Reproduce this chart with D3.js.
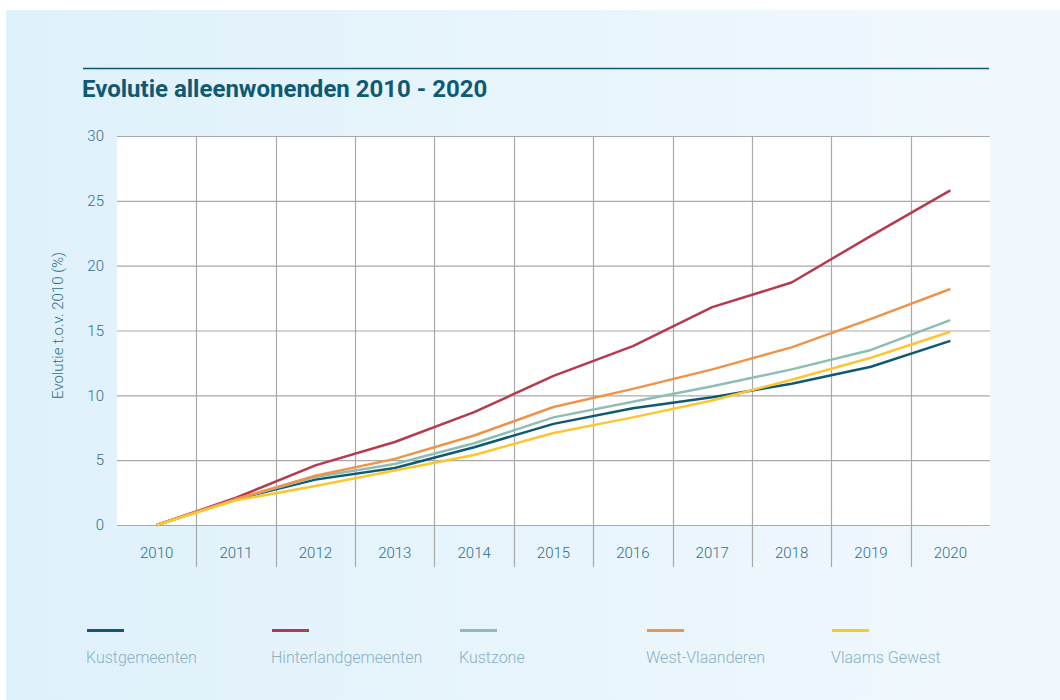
<!DOCTYPE html>
<html>
<head>
<meta charset="utf-8">
<title>Evolutie alleenwonenden 2010 - 2020</title>
<script src="https://cdnjs.cloudflare.com/ajax/libs/d3/7.8.5/d3.min.js"></script>
<style>
body {
  margin: 0;
  background: #ffffff;
  font-family: Roboto, sans-serif;
}
.tick text {
  font-family: Roboto, sans-serif;
  font-weight: 300;
  font-size: 15px;
  fill: #2f6f8c;
}
.legend text {
  font-family: Roboto, sans-serif;
  font-weight: 300;
  font-size: 16px;
  fill: #8ab0c2;
}
</style>
</head>
<body>
<script>
// data (evolutie t.o.v. 2010, %)
var years = ["2010", "2011", "2012", "2013", "2014", "2015", "2016", "2017", "2018", "2019", "2020"];
var yTicks = [0, 5, 10, 15, 20, 25, 30];

var kustgemeenten      = [0, 2.0, 3.5, 4.4, 6.0, 7.8, 9.0, 9.85, 10.9, 12.2, 14.2];
var hinterlandgemeenten = [0, 2.1, 4.6, 6.4, 8.7, 11.5, 13.8, 16.8, 18.7, 22.3, 25.8];
var kustzone           = [0, 2.0, 3.7, 4.7, 6.3, 8.3, 9.5, 10.7, 12.0, 13.5, 15.8];
var westVlaanderen     = [0, 2.0, 3.8, 5.1, 6.9, 9.1, 10.5, 12.0, 13.7, 15.9, 18.2];
var vlaamsGewest       = [0, 1.9, 3.0, 4.2, 5.4, 7.1, 8.3, 9.6, 11.2, 12.9, 14.9];

var seriesNames = ["Kustgemeenten", "Hinterlandgemeenten", "Kustzone", "West-Vlaanderen", "Vlaams Gewest"];
var seriesColors = ["#0f5a73", "#b53a4f", "#8dbdb3", "#ee9348", "#fdc630"];
var seriesValues = [kustgemeenten, hinterlandgemeenten, kustzone, westVlaanderen, vlaamsGewest];

var width = 1060, height = 700;
var margin = {left: 117, right: 70, top: 136, bottom: 175};

var svg = d3.select("body").append("svg")
  .attr("width", width)
  .attr("height", height);

// background panel with soft gradient
var defs = svg.append("defs");
var grad = defs.append("linearGradient").attr("id", "bg").attr("x1", "0").attr("x2", "1").attr("y1", "0").attr("y2", "0");
grad.append("stop").attr("offset", "0").attr("stop-color", "#dff1fb");
grad.append("stop").attr("offset", "1").attr("stop-color", "#f1f8fd");

svg.append("rect")
  .attr("x", 6).attr("y", 10)
  .attr("width", width - 6).attr("height", height - 10)
  .attr("fill", "url(#bg)");

// title + rule
svg.append("line")
  .attr("x1", 83).attr("x2", 989)
  .attr("y1", 68.5).attr("y2", 68.5)
  .attr("stroke", "#0f5a73").attr("stroke-width", 1.5);

svg.append("text")
  .attr("x", 82).attr("y", 97)
  .attr("font-family", "Roboto, sans-serif")
  .attr("font-weight", 700)
  .attr("font-size", "24px")
  .attr("fill", "#0f5a73")
  .text("Evolutie alleenwonenden 2010 - 2020");

var x = d3.scaleBand()
  .domain(years)
  .range([margin.left, width - margin.right]);

var y = d3.scaleLinear()
  .domain([0, 30])
  .range([height - margin.bottom, margin.top]);

// plot area
svg.append("rect")
  .attr("x", x.range()[0]).attr("y", y(30))
  .attr("width", x.range()[1] - x.range()[0])
  .attr("height", y(0) - y(30))
  .attr("fill", "#ffffff");

// vertical grid between categories, running down through the labels
var gridBottom = y(0) + 42;
svg.append("g")
  .selectAll("line")
  .data(years.slice(1))
  .join("line")
    .attr("x1", function(d) { return Math.round(x(d)) + 0.5; })
    .attr("x2", function(d) { return Math.round(x(d)) + 0.5; })
    .attr("y1", y(30))
    .attr("y2", gridBottom)
    .attr("stroke", "#a9a9a9")
    .attr("stroke-width", 1.2);

// y axis with horizontal grid
var yAxis = svg.append("g")
  .attr("transform", "translate(" + margin.left + ",0)")
  .call(d3.axisLeft(y).tickValues(yTicks).tickSize(-(x.range()[1] - x.range()[0])).tickPadding(13));
yAxis.select(".domain").remove();
yAxis.selectAll(".tick line").attr("stroke", "#a9a9a9").attr("stroke-width", 1.2);

// x axis labels
var xAxis = svg.append("g")
  .attr("transform", "translate(0," + y(0) + ")")
  .call(d3.axisBottom(x).tickSize(0).tickPadding(22));
xAxis.select(".domain").remove();

// y axis title
svg.append("text")
  .attr("transform", "translate(63," + (y(15) - 5) + ") rotate(-90)")
  .attr("text-anchor", "middle")
  .attr("font-family", "Roboto, sans-serif")
  .attr("font-weight", 300)
  .attr("font-size", "15px")
  .attr("fill", "#2f6f8c")
  .text("Evolutie t.o.v. 2010 (%)");

// lines
var line = d3.line()
  .x(function(d, i) { return x(years[i]) + x.bandwidth() / 2; })
  .y(function(d) { return y(d); });

svg.append("g")
  .selectAll("path")
  .data(seriesValues)
  .join("path")
    .attr("d", function(d) { return line(d); })
    .attr("fill", "none")
    .attr("stroke", function(d, i) { return seriesColors[i]; })
    .attr("stroke-width", 2.5)
    .attr("stroke-linejoin", "round");

// legend
var legendX = [87, 272, 460, 647, 832];
var legend = svg.append("g").attr("class", "legend")
  .selectAll("g")
  .data(seriesNames)
  .join("g")
    .attr("transform", function(d, i) { return "translate(" + legendX[i] + ",0)"; });

legend.append("rect")
  .attr("x", 0).attr("y", 629)
  .attr("width", 37).attr("height", 3)
  .attr("fill", function(d, i) { return seriesColors[i]; });

legend.append("text")
  .attr("x", -1).attr("y", 663)
  .text(function(d) { return d; });
</script>
</body>
</html>
